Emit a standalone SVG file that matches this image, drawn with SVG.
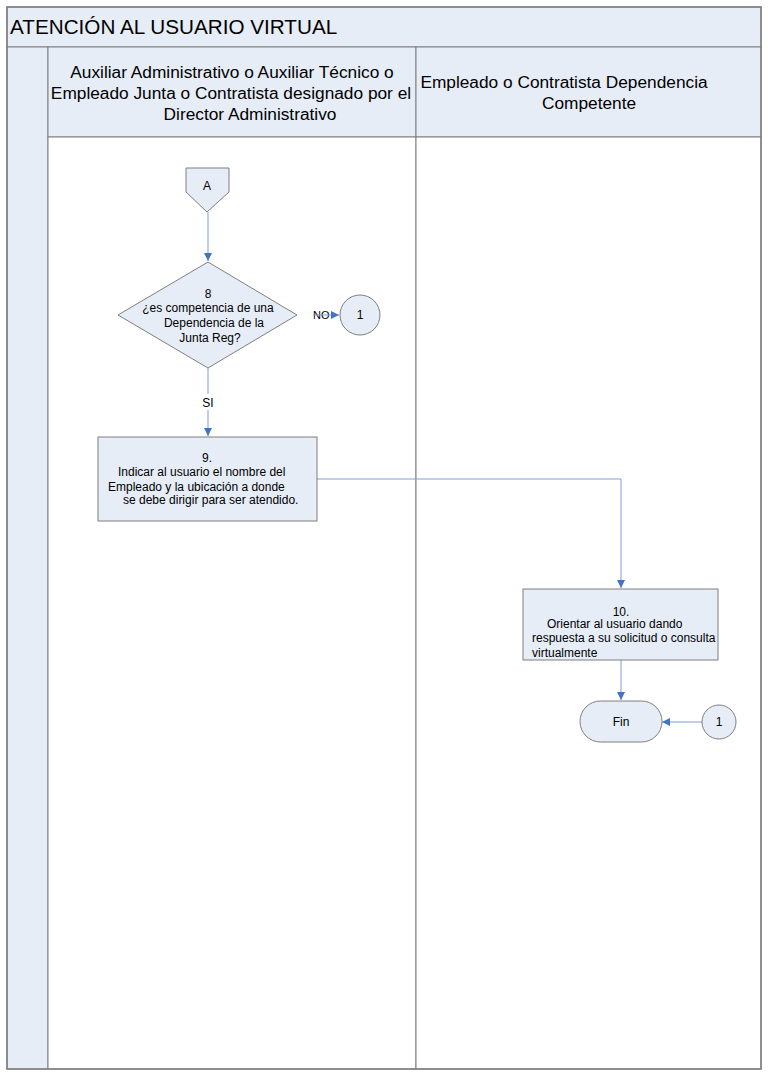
<svg xmlns="http://www.w3.org/2000/svg" width="768" height="1076" viewBox="0 0 768 1076">
<style>
.frame{fill:none;stroke:#7f7f7f;stroke-width:1.5}
.band{fill:#e6edf7;stroke:#7f7f7f;stroke-width:1}
.shape{fill:#e6edf7;stroke:#7f7f7f;stroke-width:1}
.t{font-family:"Liberation Sans",Arial,sans-serif;fill:#000}
.s{font-size:12px}
.h{font-size:17.3px}
.conn{fill:none;stroke:#7f9fd6;stroke-width:1}
</style>
<defs>
<marker id="arr" viewBox="0 0 10 10" refX="10" refY="5" markerWidth="8" markerHeight="8" markerUnits="userSpaceOnUse" orient="auto">
<path d="M0,0 L10,5 L0,10 z" fill="#4472c4"/>
</marker>
</defs>
<rect x="0" y="0" width="768" height="1076" fill="#fff"/>
<g id="pool">
<rect class="band" x="7" y="7" width="754" height="40"/>
<text class="t" x="10" y="34" font-size="20.7">ATENCIÓN AL USUARIO VIRTUAL</text>
<rect class="band" x="7" y="47" width="41" height="1022"/>
<rect class="band" x="48" y="47" width="368" height="90"/>
<rect class="band" x="416" y="47" width="345" height="90"/>
<rect x="48" y="137" width="368" height="932" fill="#fff" stroke="#7f7f7f"/>
<rect x="416" y="137" width="345" height="932" fill="#fff" stroke="#7f7f7f"/>
<rect class="frame" x="7" y="7" width="754" height="1062"/>
<text class="t h" text-anchor="middle" x="232" y="78">Auxiliar Administrativo o Auxiliar Técnico o</text>
<text class="t h" text-anchor="middle" x="231" y="99">Empleado Junta o Contratista designado por el</text>
<text class="t h" text-anchor="middle" x="250" y="120">Director Administrativo</text>
<text class="t h" text-anchor="middle" x="564" y="88">Empleado o Contratista Dependencia</text>
<text class="t h" text-anchor="middle" x="589" y="109">Competente</text>
</g>
<g id="connectors">
<path class="conn" d="M208,212 L208,261" marker-end="url(#arr)"/>
<text class="t" font-size="11" x="313" y="319">NO</text>
<path class="conn" d="M313,315 L339,315" marker-end="url(#arr)"/>
<path class="conn" d="M208,368 L208,394"/>
<text class="t s" text-anchor="middle" x="208" y="407">SI</text>
<path class="conn" d="M208,410 L208,436" marker-end="url(#arr)"/>
<path class="conn" d="M317,479 L621,479 L621,588" marker-end="url(#arr)"/>
<path class="conn" d="M621,660 L621,700" marker-end="url(#arr)"/>
<path class="conn" d="M702,722 L662,722" marker-end="url(#arr)"/>
</g>
<g id="nodeA">
<path class="shape" d="M186,168 L229,168 L229,192 L207,212 L186,192 z"/>
<text class="t s" text-anchor="middle" x="207" y="190">A</text>
</g>
<g id="node8">
<path class="shape" d="M208,262 L297,315 L208,368 L118,315 z"/>
<text class="t s" text-anchor="middle" x="208" y="298">8</text>
<text class="t s" text-anchor="middle" x="208" y="312">¿es competencia de una</text>
<text class="t s" text-anchor="middle" x="214" y="327">Dependencia de la</text>
<text class="t s" text-anchor="middle" x="210" y="342">Junta Reg?</text>
</g>
<g id="conn1a">
<circle class="shape" cx="360" cy="315" r="20"/>
<text class="t s" text-anchor="middle" x="360" y="319">1</text>
</g>
<g id="node9">
<rect class="shape" x="98" y="437" width="219" height="84"/>
<text class="t s" text-anchor="middle" x="207" y="462">9.</text>
<text class="t s" x="118" y="476">Indicar al usuario el nombre del</text>
<text class="t s" x="108" y="491">Empleado y la ubicación a donde</text>
<text class="t s" x="123" y="504">se debe dirigir para ser atendido.</text>
</g>
<g id="node10">
<rect class="shape" x="523" y="589" width="195" height="71"/>
<text class="t s" text-anchor="middle" x="621" y="616">10.</text>
<text class="t s" x="547" y="628">Orientar al usuario dando</text>
<text class="t s" x="532" y="642">respuesta a su solicitud o consulta</text>
<text class="t s" x="532" y="657">virtualmente</text>
</g>
<g id="fin">
<rect class="shape" x="580" y="701" width="82" height="41" rx="20.5"/>
<text class="t s" text-anchor="middle" x="621" y="726">Fin</text>
</g>
<g id="conn1b">
<circle class="shape" cx="719" cy="722" r="17"/>
<text class="t s" text-anchor="middle" x="719" y="726">1</text>
</g>
</svg>
